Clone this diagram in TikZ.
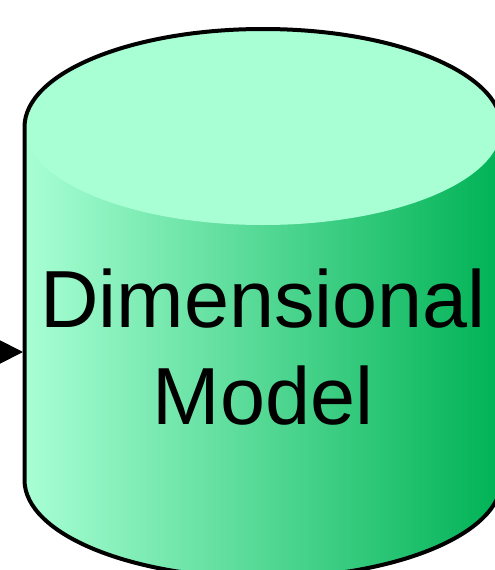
\documentclass[tikz,border=0pt]{standalone}
\usepackage{fontspec}
\setmainfont{Liberation Sans}
\usetikzlibrary{arrows.meta}
\definecolor{topface}{RGB}{168,255,212}
\definecolor{sideL}{RGB}{168,255,212}
\definecolor{sideR}{RGB}{0,178,85}
\begin{document}
\begin{tikzpicture}[x=1pt,y=-1pt,
  outline/.style={draw=black,line width=4pt,line join=round},
  label/.style={font=\fontsize{81}{97}\selectfont,align=center,text=black}]
\useasboundingbox (0,0) rectangle (495,570);
\clip (0,0) rectangle (495,570);
\def\body{(24.5,127) -- (24.5,480) arc[start angle=180,end angle=0,x radius=238.5,y radius=98] -- (501.5,127) arc[start angle=0,end angle=-180,x radius=238.5,y radius=98] -- cycle}
\shade[left color=sideL,right color=sideR] \body;
\fill[topface] (263,127) ellipse[x radius=238.5,y radius=98];
\draw[outline] \body;
\node[label,anchor=base] (dm) at (263,424) {Dimensional\\Model};
\coordinate (src) at (-15,352);
\coordinate (dmW) at (23,352);
\draw[line width=2pt,-{Triangle[length=24pt,width=24pt]}] (src) -- (dmW);
\end{tikzpicture}
\end{document}
